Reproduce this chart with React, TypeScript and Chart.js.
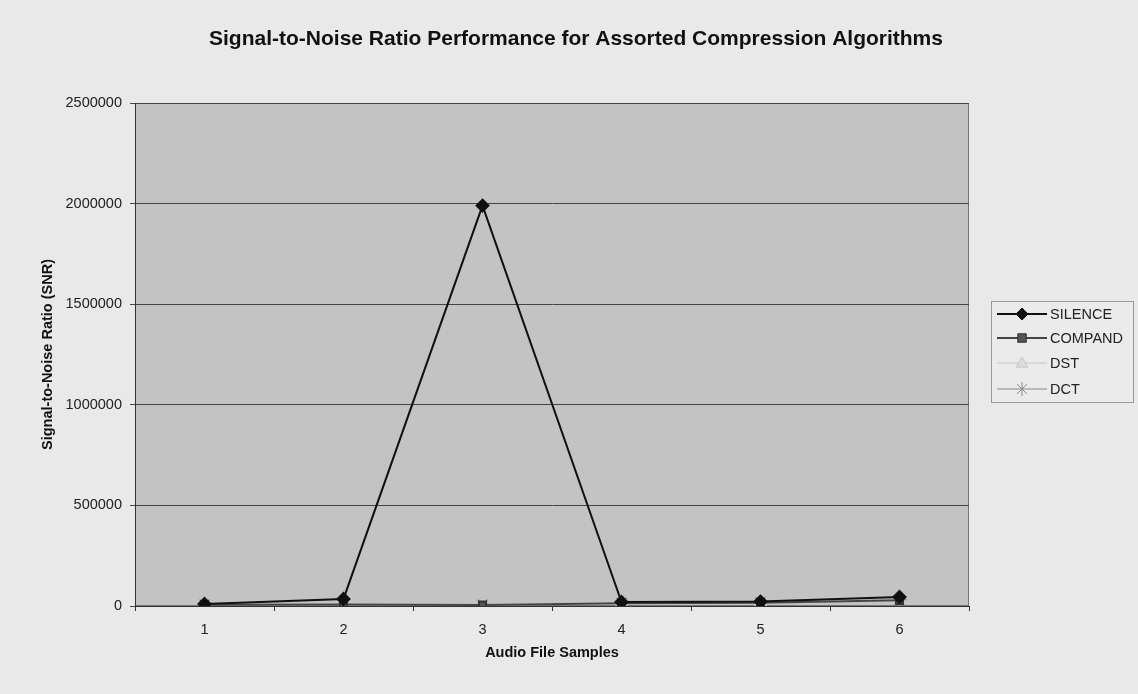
import React, { useEffect, useRef } from "react";
import { Chart, registerables } from "chart.js";

Chart.register(...registerables);

const categories = ["1", "2", "3", "4", "5", "6"];
const silence = [10000, 35000, 1990000, 20000, 22000, 45000];
const compand = [6000, 8000, 5000, 14000, 16000, 28000];
const dst = [7000, 9000, 6000, 15000, 18000, 30000];
const dct = [8000, 10000, 7000, 16000, 19000, 32000];
const seriesNames = ["SILENCE", "COMPAND", "DST", "DCT"];
const titleText = "Signal-to-Noise Ratio Performance for Assorted Compression Algorithms";
const yTitle = "Signal-to-Noise Ratio (SNR)";
const xTitle = "Audio File Samples";

const FONT = "Arial, 'Liberation Sans', sans-serif";
const FS = 14.5;

function drawMarker(ctx: CanvasRenderingContext2D, style: string, x: number, y: number, r: number, fill: string, stroke: string) {
  ctx.save();
  ctx.fillStyle = fill;
  ctx.strokeStyle = stroke;
  ctx.lineWidth = 1;
  ctx.beginPath();
  if (style === "rectRot") {
    ctx.moveTo(x, y - r); ctx.lineTo(x + r, y); ctx.lineTo(x, y + r); ctx.lineTo(x - r, y); ctx.closePath();
    ctx.fill(); ctx.stroke();
  } else if (style === "rect") {
    const s = r * 0.85;
    ctx.rect(x - s, y - s, 2 * s, 2 * s);
    ctx.fill(); ctx.stroke();
  } else if (style === "triangle") {
    ctx.moveTo(x, y - r); ctx.lineTo(x + r, y + r * 0.7); ctx.lineTo(x - r, y + r * 0.7); ctx.closePath();
    ctx.fill(); ctx.stroke();
  } else {
    const d = r * 0.7;
    ctx.moveTo(x - d, y - d); ctx.lineTo(x + d, y + d);
    ctx.moveTo(x + d, y - d); ctx.lineTo(x - d, y + d);
    ctx.moveTo(x, y - r); ctx.lineTo(x, y + r);
    ctx.stroke();
  }
  ctx.restore();
}

const plotBg = {
  id: "plotBg",
  beforeDraw(chart: any) {
    const { ctx, chartArea } = chart;
    ctx.save();
    ctx.fillStyle = "#e9e9e9";
    ctx.fillRect(0, 0, chart.width, chart.height);
    ctx.fillStyle = "#c3c3c3";
    ctx.fillRect(chartArea.left, chartArea.top, chartArea.right - chartArea.left, chartArea.bottom - chartArea.top);
    ctx.strokeStyle = "#777";
    ctx.lineWidth = 1;
    ctx.strokeRect(chartArea.left + 0.5, chartArea.top + 0.5, chartArea.right - chartArea.left - 1, chartArea.bottom - chartArea.top - 1);
    ctx.restore();
  },
};

const customLegend = {
  id: "customLegend",
  afterDraw(chart: any) {
    const { ctx } = chart;
    const boxL = 991, boxT = 301, boxR = 1133, boxB = 402;
    ctx.save();
    ctx.fillStyle = "#ebebeb";
    ctx.fillRect(boxL, boxT, boxR - boxL, boxB - boxT);
    ctx.strokeStyle = "#999";
    ctx.lineWidth = 1;
    ctx.strokeRect(boxL + 0.5, boxT + 0.5, boxR - boxL, boxB - boxT);
    const ys = [314, 338, 363, 389];
    chart.data.datasets.forEach((ds: any, i: number) => {
      const y = ys[i];
      ctx.strokeStyle = ds.borderColor;
      ctx.lineWidth = ds.borderWidth;
      ctx.beginPath();
      ctx.moveTo(997, y);
      ctx.lineTo(1047, y);
      ctx.stroke();
      drawMarker(ctx, ds.pointStyle, 1022, y, ds.pointRadius, ds.pointBackgroundColor, ds.pointBorderColor);
      ctx.fillStyle = "#222";
      ctx.font = FS + "px " + FONT;
      ctx.textBaseline = "middle";
      ctx.textAlign = "left";
      ctx.fillText(ds.label, 1050, y + 1);
    });
    ctx.restore();
  },
};

export default function App() {
  const ref = useRef<HTMLCanvasElement>(null);
  useEffect(() => {
    const canvas = ref.current!;
    const chart = new Chart(canvas, {
      type: "line",
      data: {
        labels: categories,
        datasets: [
          {
            label: seriesNames[0], data: silence,
            borderColor: "#111", borderWidth: 2,
            pointStyle: "rectRot", pointRadius: 6,
            pointBackgroundColor: "#111", pointBorderColor: "#111",
          },
          {
            label: seriesNames[1], data: compand,
            borderColor: "#444", borderWidth: 2,
            pointStyle: "rect", pointRadius: 5,
            pointBackgroundColor: "#555", pointBorderColor: "#333",
          },
          {
            label: seriesNames[2], data: dst,
            borderColor: "#d8d8d8", borderWidth: 2,
            pointStyle: "triangle", pointRadius: 6,
            pointBackgroundColor: "#dcdcdc", pointBorderColor: "#c8c8c8",
          },
          {
            label: seriesNames[3], data: dct,
            borderColor: "#a8a8a8", borderWidth: 1.5,
            pointStyle: "star", pointRadius: 7,
            pointBackgroundColor: "#999", pointBorderColor: "#8a8a8a",
          },
        ] as any,
      },
      options: {
        animation: false,
        responsive: false,
        maintainAspectRatio: false,
        layout: { padding: { left: 14, right: 0, top: 0, bottom: 30 } },
        plugins: {
          legend: { display: false },
          tooltip: { enabled: false },
          title: {
            display: true,
            text: titleText,
            color: "#111",
            font: { family: FONT, size: 21, weight: "bold" },
            padding: { top: 26.4, bottom: 51.4 },
          },
        },
        scales: {
          x: {
            type: "category",
            offset: true,
            grid: { display: true, drawOnChartArea: false, tickLength: 5, color: "#333", offset: true },
            border: { color: "#333", width: 1 },
            ticks: { color: "#222", font: { family: FONT, size: FS }, padding: 10 },
            title: {
              display: true, text: xTitle, color: "#111",
              font: { family: FONT, size: FS, weight: "bold" },
              padding: { top: 2, bottom: 2.3 },
            },
            afterFit: (s: any) => { s.height = 58; },
          },
          y: {
            min: 0, max: 2500000,
            ticks: {
              stepSize: 500000, color: "#222", font: { family: FONT, size: FS }, padding: 8,
              callback: (v: any) => String(v),
            },
            grid: { color: "#444", tickLength: 5, lineWidth: 1 },
            border: { color: "#333", width: 1 },
            title: {
              display: true, text: yTitle, color: "#111",
              font: { family: FONT, size: FS, weight: "bold" },
              padding: { top: 25.3, bottom: 4 },
            },
            afterFit: (s: any) => { s.width = 121; },
          },
          yRight: {
            type: "linear",
            position: "right",
            display: true,
            grid: { display: false },
            border: { display: false },
            ticks: { display: false },
            afterFit: (s: any) => { s.width = 169; },
          },
        },
      } as any,
      plugins: [plotBg, customLegend],
    });
    return () => chart.destroy();
  }, []);
  return (
    <div style={{ position: "fixed", left: 0, top: 0, width: 1138, height: 694, background: "#e9e9e9" }}>
      <canvas ref={ref} width={1138} height={694} style={{ display: "block" }} />
    </div>
  );
}
